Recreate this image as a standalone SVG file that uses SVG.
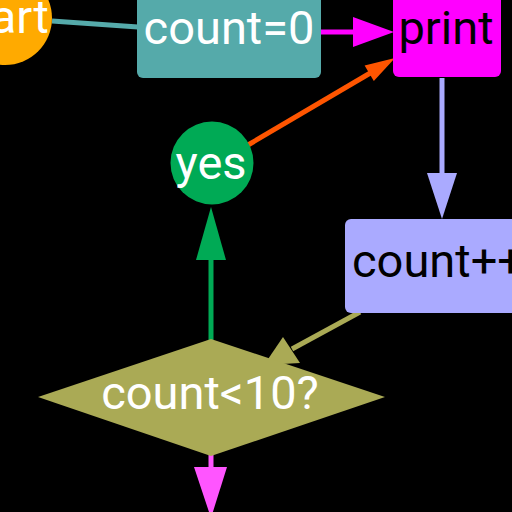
<svg xmlns="http://www.w3.org/2000/svg" width="512" height="512" viewBox="0 0 512 512">
<style>
text{font-family:Roboto,"Liberation Sans",sans-serif;font-size:47px;text-anchor:middle}
.w{fill:#FFFFFF}
.k{fill:#000000}
.ln{fill:none;stroke-width:5}
</style>
<rect width="512" height="512" fill="#000000"/>
<g id="connectors">
<line class="ln" x1="52" y1="21" x2="138" y2="27" stroke="#55AAAA" stroke-width="6"/>
<line class="ln" x1="321" y1="32" x2="356" y2="32" stroke="#FF00FF"/>
<polygon points="353,17 394,32 353,47" fill="#FF00FF"/>
<line class="ln" x1="248" y1="145" x2="372" y2="72" stroke="#FF5500" stroke-width="4"/>
<polygon points="395,58 373.8,81 364.6,65.5" fill="#FF5500"/>
<line class="ln" x1="442" y1="78" x2="442" y2="176" stroke="#AAAAFF"/>
<polygon points="427,173 457,173 442,219" fill="#AAAAFF"/>
<line class="ln" x1="360" y1="312" x2="292" y2="349" stroke="#AAAA55"/>
<polygon points="283,337 300,363 264,365" fill="#AAAA55"/>
<line class="ln" x1="211" y1="340" x2="211" y2="258" stroke="#00AA55"/>
<polygon points="196,260 226,260 211,207" fill="#00AA55"/>
<line class="ln" x1="211" y1="455" x2="211" y2="470" stroke="#FF55FF"/>
<polygon points="194,467 227,467 211,518" fill="#FF55FF"/>
</g>
<g id="start">
<circle cx="5" cy="18" r="47" fill="#FFAA00"/>
<text class="w" x="0" y="33">start</text>
</g>
<g id="count0">
<rect x="137" y="-10" width="184" height="88" rx="6" fill="#55AAAA"/>
<text class="w" x="229" y="44">count=0</text>
</g>
<g id="print">
<rect x="393" y="-10" width="108" height="87" rx="6" fill="#FF00FF"/>
<text class="k" x="446" y="44">print</text>
</g>
<g id="yes">
<circle cx="212" cy="163" r="41.5" fill="#00AA55"/>
<text class="w" x="211" y="179">yes</text>
</g>
<g id="countpp">
<rect x="345" y="219" width="194" height="94" rx="6" fill="#AAAAFF"/>
<text class="k" x="438" y="277">count++</text>
</g>
<g id="cond">
<polygon points="211,339 385,397 211,456 38,397" fill="#AAAA55"/>
<text class="w" x="210" y="409">count&lt;10?</text>
</g>
</svg>
